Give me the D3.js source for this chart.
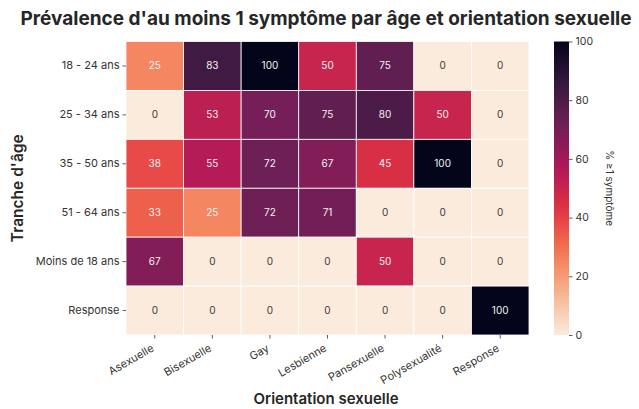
<!DOCTYPE html>
<html>
<head>
<meta charset="utf-8">
<script src="https://cdn.jsdelivr.net/npm/d3@7"></script>
<style>
  body { margin: 0; background: #fff; }
  text { font-family: Inter, "DejaVu Sans", sans-serif; }
</style>
</head>
<body>
<script>
// data
const ages = ["18 - 24 ans", "25 - 34 ans", "35 - 50 ans", "51 - 64 ans", "Moins de 18 ans", "Response"];
const orientations = ["Asexuelle", "Bisexuelle", "Gay", "Lesbienne", "Pansexuelle", "Polysexualité", "Response"];
const values = [
  [25, 83, 100, 50, 75, 0, 0],
  [0, 53, 70, 75, 80, 50, 0],
  [38, 55, 72, 67, 45, 100, 0],
  [33, 25, 72, 71, 0, 0, 0],
  [67, 0, 0, 0, 50, 0, 0],
  [0, 0, 0, 0, 0, 0, 100]
];
const cbarTicks = [0, 20, 40, 60, 80, 100];

// rocket colormap samples (seaborn), reversed so 0 is light
const rocket = ["#03051a", "#35193e", "#701f57", "#ad1759", "#e13342", "#f37651", "#f6b48f", "#faebdd"];
const color = d3.scaleLinear()
  .domain(d3.range(rocket.length).map(i => 100 - i * 100 / (rocket.length - 1)))
  .range(rocket)
  .interpolate(d3.interpolateRgb);

const width = 639, height = 409;
const margin = {top: 41.5, left: 126, right: 110, bottom: 74};

const svg = d3.select("body").append("svg")
  .attr("width", width)
  .attr("height", height);

const x = d3.scaleBand().domain(orientations).range([margin.left, width - margin.right]);
const y = d3.scaleBand().domain(ages).range([margin.top, height - margin.bottom]);

// title
svg.append("text")
  .attr("x", 326).attr("y", 25)
  .attr("text-anchor", "middle")
  .attr("font-size", 19)
  .attr("font-weight", "bold")
  .attr("fill", "#262626")
  .text("Prévalence d'au moins 1 symptôme par âge et orientation sexuelle");

// cells
const cells = [];
values.forEach((row, i) => row.forEach((v, j) => cells.push({age: ages[i], ori: orientations[j], v})));

svg.append("g").selectAll("rect")
  .data(cells)
  .join("rect")
    .attr("x", d => x(d.ori))
    .attr("y", d => y(d.age))
    .attr("width", x.bandwidth())
    .attr("height", y.bandwidth())
    .attr("fill", d => color(d.v))
    .attr("stroke", "#fff")
    .attr("stroke-width", 0.8);

svg.append("g").selectAll("text")
  .data(cells)
  .join("text")
    .attr("x", d => x(d.ori) + x.bandwidth() / 2)
    .attr("y", d => y(d.age) + y.bandwidth() / 2)
    .attr("dy", "0.35em")
    .attr("text-anchor", "middle")
    .attr("font-size", 10)
    .attr("fill", d => d.v < 20 ? "#3a3a3a" : "#f2f2f2")
    .text(d => d.v);

// axes
const yAxis = svg.append("g")
  .attr("transform", `translate(${margin.left},0)`)
  .call(d3.axisLeft(y).tickSize(3.5).tickPadding(3));
yAxis.select(".domain").remove();
yAxis.selectAll("line").attr("stroke", "#333").attr("stroke-width", 0.8);
yAxis.selectAll("text").attr("font-size", 11).attr("fill", "#333");

const xAxis = svg.append("g")
  .attr("transform", `translate(0,${height - margin.bottom})`)
  .call(d3.axisBottom(x).tickSize(3.5).tickPadding(3));
xAxis.select(".domain").remove();
xAxis.selectAll("line").attr("stroke", "#333").attr("stroke-width", 0.8);
xAxis.selectAll("text")
  .attr("font-size", 11).attr("fill", "#333")
  .attr("text-anchor", "end")
  .attr("y", 0)
  .attr("dy", "0.35em")
  .attr("transform", "translate(-2,12) rotate(-30)");

// axis labels
svg.append("text")
  .attr("x", 326).attr("y", 404)
  .attr("text-anchor", "middle")
  .attr("font-size", 15)
  .attr("font-weight", 600)
  .attr("fill", "#262626")
  .text("Orientation sexuelle");

svg.append("text")
  .attr("transform", `translate(23,${(margin.top + height - margin.bottom) / 2}) rotate(-90)`)
  .attr("text-anchor", "middle")
  .attr("font-size", 15.5)
  .attr("font-weight", 600)
  .attr("fill", "#262626")
  .text("Tranche d'âge");

// colour bar
const cbX = 554, cbW = 15;
const cb = d3.scaleLinear().domain([0, 100]).range([height - margin.bottom, margin.top]);
const defs = svg.append("defs");
const grad = defs.append("linearGradient")
  .attr("id", "cbgrad")
  .attr("x1", 0).attr("y1", 1).attr("x2", 0).attr("y2", 0);
grad.selectAll("stop")
  .data(d3.range(0, 101, 5))
  .join("stop")
    .attr("offset", d => d / 100)
    .attr("stop-color", d => color(d));

svg.append("rect")
  .attr("x", cbX).attr("y", cb(100))
  .attr("width", cbW).attr("height", cb(0) - cb(100))
  .attr("fill", "url(#cbgrad)");

const cAxis = svg.append("g")
  .attr("transform", `translate(${cbX + cbW},0)`)
  .call(d3.axisRight(cb).tickValues(cbarTicks).tickSize(3.5).tickPadding(3));
cAxis.select(".domain").remove();
cAxis.selectAll("line").attr("stroke", "#333").attr("stroke-width", 0.8);
cAxis.selectAll("text").attr("font-size", 10.5).attr("fill", "#333");

svg.append("text")
  .attr("transform", `translate(606,${(margin.top + height - margin.bottom) / 2}) rotate(90)`)
  .attr("text-anchor", "middle")
  .attr("font-size", 10)
  .attr("fill", "#333")
  .text("% ≥1 symptôme");
</script>
</body>
</html>
